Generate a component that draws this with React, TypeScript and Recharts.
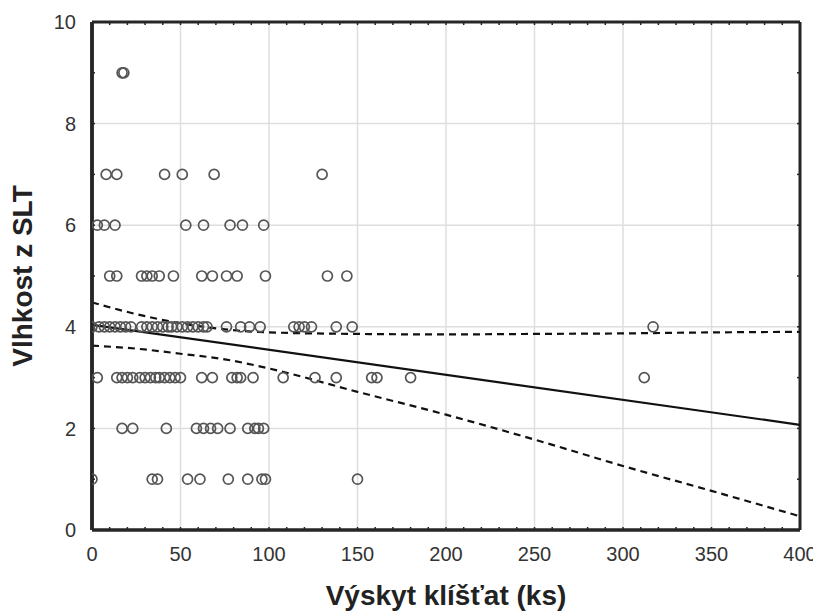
import { ComposedChart, Scatter, Line, XAxis, YAxis, CartesianGrid, Label, ReferenceLine } from "recharts";

// tick counts (ks) observed at each humidity level
const humidity1 = [0, 34, 37, 54, 61, 77, 88, 96, 98, 150];
const humidity2 = [17, 23, 42, 59, 63, 67, 71, 78, 88, 92, 94, 97];
const humidity3 = [3, 14, 17, 20, 23, 27, 30, 33, 36, 38, 41, 44, 47, 50, 62, 68, 79, 82, 84, 91, 108, 126, 138, 158, 161, 180, 312];
const humidity4 = [0, 4, 7, 10, 13, 16, 19, 22, 28, 31, 34, 37, 40, 43, 45, 48, 51, 54, 57, 60, 63, 65, 76, 84, 89, 95, 114, 117, 120, 124, 138, 147, 317];
const humidity5 = [10, 14, 28, 31, 34, 38, 46, 62, 68, 76, 82, 98, 133, 144];
const humidity6 = [3, 7, 13, 53, 63, 78, 85, 97];
const humidity7 = [8, 14, 41, 51, 69, 130];
const humidity9 = [17, 18];

// regression line and 95% confidence band
const fitX = [0, 400];
const fitY = [4.04, 2.07];
const bandX = [0, 25, 50, 75, 100, 150, 200, 250, 300, 350, 400];
const bandUpper = [4.48, 4.25, 4.07, 3.95, 3.89, 3.86, 3.85, 3.86, 3.87, 3.89, 3.9];
const bandLower = [3.63, 3.57, 3.47, 3.36, 3.18, 2.72, 2.27, 1.78, 1.26, 0.77, 0.27];

const xTicks = [0, 50, 100, 150, 200, 250, 300, 350, 400];
const yTicks = [0, 2, 4, 6, 8, 10];
const xGrid = [50, 100, 150, 200, 250, 300, 350];
const yGrid = [2, 4, 6, 8];
const xMinor = [0, 10, 20, 30, 40, 50, 60, 70, 80, 90, 100, 110, 120, 130, 140, 150, 160, 170, 180, 190, 200,
    210, 220, 230, 240, 250, 260, 270, 280, 290, 300, 310, 320, 330, 340, 350, 360, 370, 380, 390, 400];
const yMinor = [0, 1, 2, 3, 4, 5, 6, 7, 8, 9, 10];

const levels: [number, number[]][] = [
    [1, humidity1],
    [2, humidity2],
    [3, humidity3],
    [4, humidity4],
    [5, humidity5],
    [6, humidity6],
    [7, humidity7],
    [9, humidity9],
];

const points = levels.flatMap(([y, xs]) => xs.map((x) => ({ x, y })));
const fitData = fitX.map((x, i) => ({ x, y: fitY[i] }));
const upperData = bandX.map((x, i) => ({ x, y: bandUpper[i] }));
const lowerData = bandX.map((x, i) => ({ x, y: bandLower[i] }));

const font = "Liberation Sans, Arial, sans-serif";
const labelStyle = { fill: "#333", fontSize: 20, fontFamily: font };
const frameColor = "#262626";
const minorTick = { stroke: frameColor, strokeWidth: 1.5 };

function OpenCircle(props: any) {
    const { cx, cy } = props;
    return <circle cx={cx} cy={cy} r={5} fill="none" stroke="#555" strokeWidth={1.7} />;
}

function XTick(props: any) {
    const { x, y, payload } = props;
    if (!xTicks.includes(payload.value)) return <g />;
    return (
        <text x={x} y={y} dy="0.75em" textAnchor="middle" style={labelStyle}>
            {payload.value}
        </text>
    );
}

function YTick(props: any) {
    const { x, y, payload } = props;
    if (!yTicks.includes(payload.value)) return <g />;
    return (
        <text x={x} y={y} dy="0.36em" textAnchor="end" style={labelStyle}>
            {payload.value}
        </text>
    );
}

export default function App() {
    return (
        <div style={{ width: 813, height: 607, background: "#fff" }}>
            <ComposedChart width={813} height={607} margin={{ top: 14, right: 21, left: 0, bottom: 25 }}>
                <CartesianGrid
                    xAxisId="x"
                    yAxisId="y"
                    stroke="#dedede"
                    strokeWidth={1.5}
                    verticalValues={xGrid}
                    horizontalValues={yGrid}
                />
                <XAxis
                    xAxisId="x"
                    type="number"
                    dataKey="x"
                    domain={[0, 400]}
                    ticks={xMinor}
                    interval={0}
                    allowDataOverflow
                    tickSize={-3}
                    tickMargin={19}
                    tickLine={minorTick}
                    axisLine={{ stroke: frameColor, strokeWidth: 3 }}
                    tick={XTick}
                    height={60}
                >
                    <Label
                        content={({ viewBox }: any) => (
                            <text
                                x={viewBox.x + viewBox.width / 2}
                                y={viewBox.y + 75}
                                textAnchor="middle"
                                style={{ fontFamily: font, fontSize: 28, fontWeight: "bold", fill: "#222" }}
                            >
                                Výskyt klíšťat (ks)
                            </text>
                        )}
                    />
                </XAxis>
                <YAxis
                    yAxisId="y"
                    type="number"
                    domain={[0, 10]}
                    ticks={yMinor}
                    interval={0}
                    allowDataOverflow
                    tickSize={-3}
                    tickMargin={19}
                    tickLine={minorTick}
                    axisLine={{ stroke: frameColor, strokeWidth: 3.5 }}
                    tick={YTick}
                    width={84}
                >
                    <Label
                        content={({ viewBox }: any) => (
                            <text
                                x={viewBox.x + 14}
                                y={viewBox.y + viewBox.height / 2}
                                textAnchor="middle"
                                dominantBaseline="central"
                                transform={`rotate(-90 ${viewBox.x + 14} ${viewBox.y + viewBox.height / 2})`}
                                style={{ fontFamily: font, fontSize: 28, fontWeight: "bold", fill: "#222" }}
                            >
                                Vlhkost z SLT
                            </text>
                        )}
                    />
                </YAxis>
                {/* full frame drawn on top so every edge is dark, with inward minor ticks on top and right */}
                <ReferenceLine xAxisId="x" yAxisId="y" y={0} stroke={frameColor} strokeWidth={3} ifOverflow="visible" />
                <ReferenceLine xAxisId="x" yAxisId="y" x={0} stroke={frameColor} strokeWidth={3.5} ifOverflow="visible" />
                <ReferenceLine xAxisId="x" yAxisId="y" y={10} stroke={frameColor} strokeWidth={3} ifOverflow="visible" />
                <ReferenceLine xAxisId="x" yAxisId="y" x={400} stroke={frameColor} strokeWidth={3} ifOverflow="visible" />
                {xMinor.map((v) => (
                    <ReferenceLine
                        key={`t${v}`}
                        xAxisId="x"
                        yAxisId="y"
                        segment={[{ x: v, y: 10 }, { x: v, y: 9.94 }]}
                        stroke={frameColor}
                        strokeWidth={1.5}
                        ifOverflow="visible"
                    />
                ))}
                {yMinor.map((v) => (
                    <ReferenceLine
                        key={`r${v}`}
                        xAxisId="x"
                        yAxisId="y"
                        segment={[{ x: 400, y: v }, { x: 398.3, y: v }]}
                        stroke={frameColor}
                        strokeWidth={1.5}
                        ifOverflow="visible"
                    />
                ))}
                <Scatter xAxisId="x" yAxisId="y" data={points} dataKey="y" shape={OpenCircle} isAnimationActive={false} />
                <Line
                    xAxisId="x"
                    yAxisId="y"
                    data={upperData}
                    dataKey="y"
                    type="monotone"
                    stroke="#111"
                    strokeWidth={2.2}
                    strokeDasharray="7 5"
                    dot={false}
                    isAnimationActive={false}
                />
                <Line
                    xAxisId="x"
                    yAxisId="y"
                    data={lowerData}
                    dataKey="y"
                    type="monotone"
                    stroke="#111"
                    strokeWidth={2.2}
                    strokeDasharray="7 5"
                    dot={false}
                    isAnimationActive={false}
                />
                <Line
                    xAxisId="x"
                    yAxisId="y"
                    data={fitData}
                    dataKey="y"
                    type="linear"
                    stroke="#111"
                    strokeWidth={2.2}
                    dot={false}
                    isAnimationActive={false}
                />
            </ComposedChart>
        </div>
    );
}
